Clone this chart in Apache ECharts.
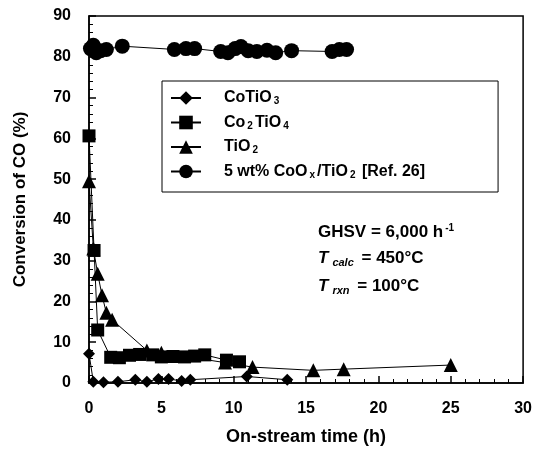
<!DOCTYPE html>
<html>
<head>
<meta charset="utf-8">
<script src="https://cdn.jsdelivr.net/npm/echarts@6/dist/echarts.min.js"></script>
<style>
  html, body { margin: 0; padding: 0; background: #fff; }
  #chart { width: 535px; height: 456px; }
</style>
</head>
<body>
<div id="chart"></div>
<script>
// 数据：[时间(h), CO转化率(%)]
const coTiO3 = [[0, 7.2], [0.3, 0.3], [1.0, 0.2], [2.0, 0.3], [3.2, 0.8], [4.0, 0.3], [4.8, 1.0], [5.5, 1.0], [6.4, 0.5], [7.0, 0.8], [10.9, 1.6], [13.7, 0.8]];
const co2TiO4 = [[0, 60.6], [0.35, 32.5], [0.6, 13.0], [1.5, 6.3], [2.1, 6.2], [2.8, 6.8], [3.5, 7.0], [4.4, 6.9], [5.0, 6.4], [5.8, 6.5], [6.6, 6.4], [7.3, 6.6], [8.0, 6.9], [9.5, 5.6], [10.4, 5.2]];
const tiO2 = [[0, 49.5], [0.3, 33.0], [0.6, 26.8], [0.9, 21.5], [1.2, 17.2], [1.6, 15.5], [4.0, 8.0], [5.0, 7.4], [9.4, 5.0], [11.3, 3.9], [15.5, 3.1], [17.6, 3.4], [25.0, 4.4]];
const coOx = [[0.1, 82.0], [0.3, 82.8], [0.5, 81.0], [0.8, 81.5], [1.2, 81.8], [2.3, 82.6], [5.9, 81.8], [6.7, 82.0], [7.3, 82.0], [9.1, 81.3], [9.6, 81.0], [10.1, 82.0], [10.5, 82.5], [11.0, 81.5], [11.6, 81.3], [12.3, 81.6], [12.9, 81.0], [14.0, 81.5], [16.8, 81.3], [17.3, 81.8], [17.8, 81.8]];

const xTicks = { min: 0, max: 30, interval: 5 };
const yTicks = { min: 0, max: 90, interval: 10 };

const legendText = {
    'CoTiO3': '{n|CoTiO}{s|3}',
    'Co2TiO4': '{n|Co}{s|2}{n|TiO}{s|4}',
    'TiO2': '{n|TiO}{s|2}',
    '5 wt% CoOx/TiO2 [Ref. 26]': '{n|5 wt% CoO}{s|x}{n|/TiO}{s|2}{n| [Ref. 26]}'
};

const font = 'Liberation Sans, Arial, sans-serif';

function mkSeries(name, data, symbol, size) {
    return {
        name: name,
        type: 'line',
        data: data,
        symbol: symbol,
        symbolSize: size,
        lineStyle: { color: '#000', width: 1 },
        itemStyle: { color: '#000' },
        emphasis: { disabled: true },
        animation: false
    };
}

const chart = echarts.init(document.getElementById('chart'));

const annoRich = {
    t: { fontFamily: font, fontWeight: 'bold', fontStyle: 'italic', fontSize: 17, fill: '#000' },
    sub: { fontFamily: font, fontWeight: 'bold', fontStyle: 'italic', fontSize: 11, fill: '#000', padding: [9, 3, 0, 4] },
    b: { fontFamily: font, fontWeight: 'bold', fontSize: 17, fill: '#000' },
    sup: { fontFamily: font, fontWeight: 'bold', fontSize: 10, fill: '#000', verticalAlign: 'top', padding: [0, 0, 8, 2] }
};

chart.setOption({
    backgroundColor: '#fff',
    grid: {
        left: 89, right: 10, top: 16, bottom: 73,
        show: true, borderColor: '#000', borderWidth: 1.5, backgroundColor: 'transparent'
    },
    legend: {
        orient: 'vertical',
        left: 162, top: 81,
        padding: [9, 73, 12, 8],
        itemGap: 8,
        itemWidth: 30, itemHeight: 17,
        borderColor: '#000', borderWidth: 1,
        data: Object.keys(legendText),
        formatter: name => legendText[name],
        textStyle: {
            rich: {
                n: { fontFamily: font, fontWeight: 'bold', fontSize: 16, color: '#000' },
                s: { fontFamily: font, fontWeight: 'bold', fontSize: 10, color: '#000', verticalAlign: 'bottom', padding: [7, 2, 0, 2] }
            },
            padding: [0, 0, 0, 18]
        }
    },
    xAxis: {
        type: 'value',
        min: xTicks.min, max: xTicks.max, interval: xTicks.interval,
        name: 'On-stream time (h)',
        nameLocation: 'middle',
        nameGap: 45,
        nameTextStyle: { fontFamily: font, fontWeight: 'bold', fontSize: 18, color: '#000' },
        axisLine: { lineStyle: { color: '#000', width: 1.5 } },
        axisTick: { inside: true, length: 7, lineStyle: { color: '#000', width: 1.5 } },
        minorTick: { show: true, splitNumber: 5, length: 4, lineStyle: { color: '#000', width: 1 } },
        axisLabel: { margin: 18, fontFamily: font, fontWeight: 'bold', fontSize: 16, color: '#000' },
        splitLine: { show: false }
    },
    yAxis: {
        type: 'value',
        min: yTicks.min, max: yTicks.max, interval: yTicks.interval,
        name: 'Conversion of CO (%)',
        nameLocation: 'middle',
        nameGap: 60,
        nameTextStyle: { fontFamily: font, fontWeight: 'bold', fontSize: 17, color: '#000' },
        axisLine: { lineStyle: { color: '#000', width: 1.5 } },
        axisTick: { inside: true, length: 7, lineStyle: { color: '#000', width: 1.5 } },
        minorTick: { show: true, splitNumber: 5, length: 4, lineStyle: { color: '#000', width: 1 } },
        axisLabel: { margin: 18, fontFamily: font, fontWeight: 'bold', fontSize: 16, color: '#000' },
        splitLine: { show: false }
    },
    graphic: [
        { type: 'text', left: 318, top: 223, style: { text: '{b|GHSV = 6,000 h}{sup|-1}', rich: annoRich } },
        { type: 'text', left: 318, top: 250, style: { text: '{t|T}{sub|calc}{b| = 450°C}', rich: annoRich } },
        { type: 'text', left: 318, top: 278, style: { text: '{t|T}{sub|rxn}{b| = 100°C}', rich: annoRich } }
    ],
    series: [
        mkSeries('CoTiO3', coTiO3, 'diamond', 12),
        mkSeries('Co2TiO4', co2TiO4, 'rect', 13),
        mkSeries('TiO2', tiO2, 'triangle', 14),
        mkSeries('5 wt% CoOx/TiO2 [Ref. 26]', coOx, 'circle', 15)
    ]
});
</script>
</body>
</html>
